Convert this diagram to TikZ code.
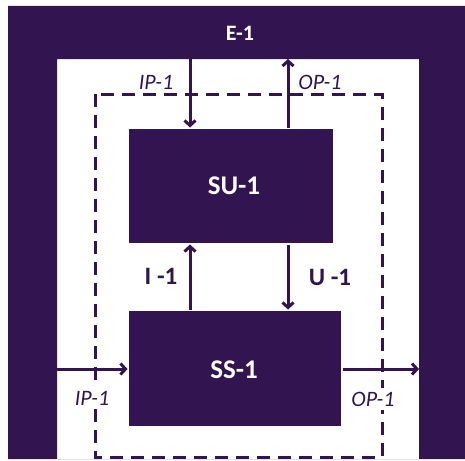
\documentclass[tikz,border=0pt]{standalone}
\usepackage{fontspec}
\setmainfont{Carlito}
\usetikzlibrary{arrows.meta}
\usetikzlibrary{positioning}
\definecolor{deep}{RGB}{49,20,80}

\begin{document}
\begin{tikzpicture}[
            x = 1pt, y = -1pt, % pixel like units, y downwards
            > = {Straight Barb[length=5pt,width=11pt]}, % arrow head style
            line width = 3pt,
            draw = deep
        ]

        \tikzstyle{block}=[
            fill = deep,
            text = white,
            font = \fontsize{27}{32}\selectfont\bfseries,
            inner sep = 0pt
        ]
        \tikzstyle{flow}=[
            text = deep,
            fill = white,
            inner sep = 4pt,
            font = \fontsize{22}{26}\selectfont\itshape
        ]
        \tikzstyle{link}=[
            text = deep,
            font = \fontsize{25}{30}\selectfont\bfseries
        ]

        \useasboundingbox (0,0) rectangle (465,460);

        % environment frame
        \fill[deep, even odd rule] (8,6) rectangle (465,459) (57,59) rectangle (419,459);
        \node[block, fill = none, font = \fontsize{22}{26}\selectfont\bfseries] (E) at (240,33) {E-1};

        % system boundary
        \draw[dashed, dash pattern = on 13pt off 8pt] (95,94) rectangle (382,457);

        % subsystems
        \node[block, minimum width = 204pt, minimum height = 114pt] (SU) at (231,186) {};
        \node[block] at (234,186) {SU-1};
        \node[block, minimum width = 212pt, minimum height = 115pt] (SS) at (235,368.5) {};
        \node[block] at (234,370) {SS-1};

        % frame ends of the arrows
        \coordinate (INT) at (190,59);
        \coordinate (OUTT) at (288,59);
        \coordinate (INL) at (57,369);
        \coordinate (OUTR) at (419,369);

        % top exchange
        \draw[->] (INT) -- (INT |- SU.north);
        \draw[->] (SU.north -| OUTT) -- (OUTT);
        \node[flow, fill = none] (IPT) at (156,82) {IP-1};
        \node[flow, fill = none] (OPT) at (320,82) {OP-1};

        % inner exchange
        \draw[->] (SS.north -| INT) -- (SU.south -| INT);
        \draw[->] (SU.south -| OUTT) -- (SS.north -| OUTT);
        \node[link] (I) at (161,276) {I -1};
        \node[link] (U) at (330,277) {U -1};

        % side exchange
        \draw[->] (INL) -- (SS.west |- INL);
        \draw[->] (SS.east |- OUTR) -- (OUTR);
        \node[flow] (IPB) at (92,398) {IP-1};
        \node[flow] (OPB) at (373,399) {OP-1};

\end{tikzpicture}
\end{document}
